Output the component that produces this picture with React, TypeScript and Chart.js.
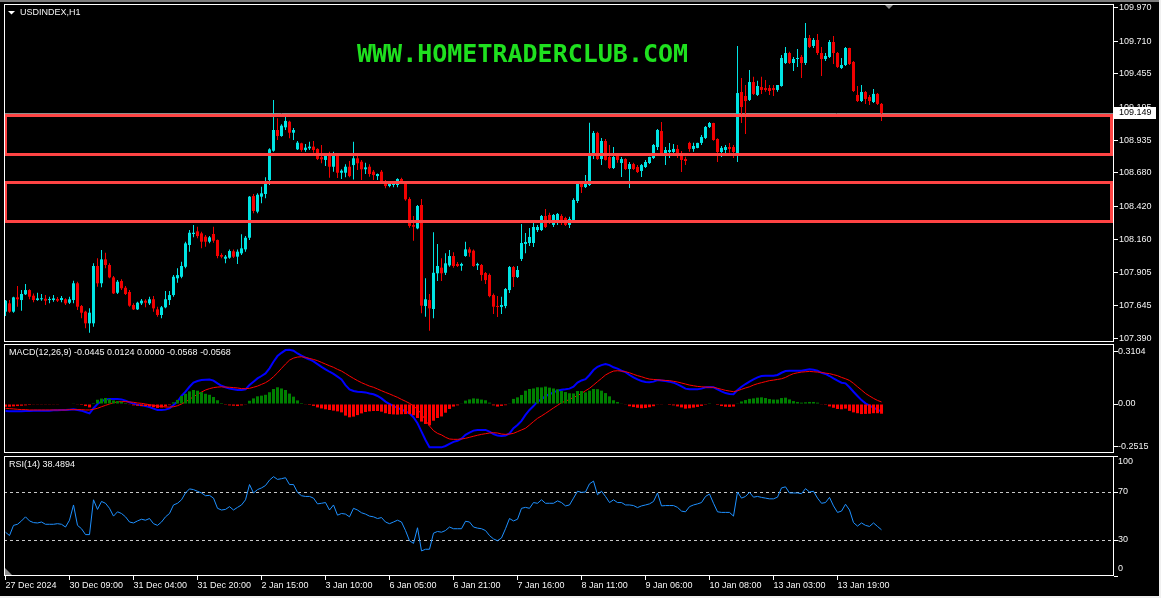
import React, { useEffect, useRef } from 'react';
import { Chart, registerables } from 'chart.js';

Chart.register(...registerables);

// ---------- DATA ----------
const opens = [
107.596,107.661,107.596,107.708,107.687,107.732,107.765,107.721,107.687,107.693,
107.697,107.687,107.687,107.695,107.687,107.693,107.666,107.687,107.818,107.640,
107.596,107.505,107.505,107.953,107.818,108.005,107.961,107.864,107.744,107.836,
107.783,107.750,107.648,107.614,107.661,107.682,107.661,107.693,107.614,107.570,
107.630,107.687,107.726,107.857,107.869,107.947,108.117,108.203,108.224,108.208,
108.182,108.143,108.203,108.156,108.039,108.010,108.018,108.068,108.026,108.052,
108.083,108.174,108.500,108.378,108.495,108.516,108.625,108.854,109.016,108.969,
109.037,109.081,108.995,108.865,108.912,108.860,108.873,108.886,108.868,108.803,
108.782,108.834,108.729,108.821,108.682,108.682,108.729,108.742,108.795,108.768,
108.709,108.729,108.690,108.656,108.690,108.612,108.578,108.586,108.586,108.633,
108.599,108.477,108.273,108.247,108.430,107.640,107.687,107.617,107.896,107.940,
107.900,107.958,108.031,107.969,107.955,108.031,108.083,108.073,107.958,107.961,
107.898,107.883,107.726,107.640,107.633,107.640,107.765,107.945,107.867,108.008,
108.125,108.133,108.133,108.234,108.234,108.344,108.352,108.274,108.289,108.344,
108.328,108.274,108.313,108.461,108.602,108.570,108.586,108.828,108.993,108.789,
108.930,108.805,108.719,108.813,108.758,108.789,108.711,108.750,108.727,108.696,
108.727,108.758,108.797,108.883,109.008,108.836,108.844,108.844,108.868,108.836,
108.789,108.915,108.868,108.876,108.915,108.954,109.040,109.071,108.946,108.844,
108.860,108.883,108.883,108.836,109.313,109.282,109.251,109.391,109.290,109.352,
109.344,109.344,109.344,109.329,109.360,109.540,109.618,109.540,109.571,109.587,
109.540,109.735,109.673,109.720,109.618,109.571,109.587,109.704,109.618,109.501,
109.524,109.657,109.548,109.290,109.243,109.313,109.274,109.235,109.298,109.220,
];

const highs = [
107.687,107.687,107.713,107.797,107.765,107.812,107.771,107.739,107.744,107.734,
107.726,107.713,107.726,107.710,107.718,107.700,107.713,107.838,107.830,107.648,
107.603,107.622,107.974,108.013,108.078,108.057,107.974,107.875,107.843,107.849,
107.797,107.765,107.661,107.674,107.695,107.693,107.713,107.718,107.635,107.640,
107.757,107.757,107.882,107.935,107.987,108.143,108.234,108.274,108.260,108.221,
108.195,108.187,108.260,108.161,108.052,108.039,108.083,108.083,108.083,108.201,
108.187,108.500,108.516,108.521,108.573,108.646,108.873,109.251,109.108,109.061,
109.120,109.089,109.032,108.930,108.917,108.907,108.925,108.930,108.873,108.899,
108.834,108.847,108.847,108.829,108.709,108.748,108.774,108.925,108.821,108.782,
108.760,108.748,108.703,108.677,108.703,108.625,108.612,108.612,108.638,108.643,
108.612,108.490,108.344,108.430,108.477,107.857,107.734,108.216,108.125,108.013,
108.052,108.078,108.060,107.984,107.979,108.143,108.099,108.083,107.979,107.969,
107.906,107.895,107.739,107.718,107.713,107.781,107.953,107.953,107.953,108.281,
108.211,108.250,108.289,108.274,108.352,108.399,108.370,108.360,108.367,108.357,
108.338,108.338,108.482,108.604,108.612,108.664,109.073,109.008,109.003,108.954,
108.946,108.899,108.883,108.821,108.805,108.795,108.766,108.760,108.742,108.750,
108.782,108.807,108.907,109.024,109.079,108.883,108.915,108.907,108.899,108.852,
108.807,108.925,108.917,108.917,108.977,109.048,109.079,109.073,108.951,108.891,
108.899,108.915,108.899,109.673,109.423,109.368,109.485,109.433,109.401,109.433,
109.407,109.368,109.368,109.368,109.603,109.665,109.628,109.587,109.650,109.603,
109.852,109.759,109.735,109.767,109.665,109.618,109.720,109.751,109.626,109.579,
109.665,109.660,109.556,109.360,109.368,109.321,109.290,109.337,109.305,109.228,
];

const lows = [
107.562,107.588,107.588,107.635,107.603,107.726,107.693,107.669,107.682,107.682,
107.648,107.661,107.674,107.671,107.669,107.648,107.656,107.661,107.609,107.544,
107.466,107.432,107.479,107.791,107.786,107.935,107.857,107.734,107.734,107.765,
107.726,107.635,107.609,107.609,107.648,107.630,107.648,107.596,107.557,107.544,
107.622,107.648,107.713,107.822,107.857,107.935,108.065,108.177,108.169,108.091,
108.104,108.130,108.135,108.013,108.013,107.974,108.010,108.015,107.969,108.039,
108.065,108.156,108.365,108.365,108.443,108.482,108.586,108.846,108.938,108.964,
109.016,108.951,108.938,108.860,108.846,108.846,108.860,108.839,108.782,108.756,
108.735,108.643,108.690,108.641,108.633,108.646,108.646,108.630,108.703,108.625,
108.672,108.651,108.625,108.625,108.599,108.560,108.568,108.568,108.568,108.594,
108.463,108.252,108.151,108.240,107.583,107.557,107.447,107.544,107.836,107.836,
107.883,107.947,107.940,107.945,107.916,108.026,108.026,107.947,107.922,107.838,
107.812,107.708,107.578,107.554,107.578,107.622,107.742,107.789,107.859,107.992,
108.052,108.109,108.101,108.219,108.226,108.250,108.281,108.258,108.274,108.274,
108.266,108.250,108.307,108.445,108.524,108.563,108.578,108.789,108.782,108.743,
108.777,108.711,108.711,108.760,108.649,108.703,108.563,108.703,108.680,108.649,
108.719,108.750,108.789,108.860,108.828,108.743,108.797,108.821,108.797,108.688,
108.743,108.846,108.846,108.873,108.899,108.946,109.032,108.933,108.766,108.805,
108.836,108.839,108.797,108.766,109.071,108.985,109.243,109.290,109.282,109.298,
109.316,109.290,109.282,109.316,109.355,109.532,109.532,109.477,109.509,109.423,
109.524,109.657,109.657,109.603,109.438,109.556,109.579,109.532,109.501,109.493,
109.516,109.524,109.313,109.235,109.235,109.220,109.212,109.228,109.212,109.087,
];

const closes = [
107.682,107.596,107.708,107.693,107.734,107.765,107.713,107.687,107.700,107.700,
107.682,107.693,107.700,107.682,107.703,107.661,107.693,107.818,107.635,107.588,
107.505,107.588,107.953,107.818,108.005,107.961,107.864,107.739,107.830,107.779,
107.734,107.643,107.614,107.666,107.682,107.666,107.693,107.622,107.570,107.630,
107.693,107.726,107.869,107.882,107.953,108.130,108.213,108.213,108.187,108.143,
108.143,108.177,108.151,108.031,108.026,108.026,108.070,108.026,108.065,108.091,
108.174,108.495,108.383,108.510,108.521,108.599,108.865,109.016,108.969,109.050,
109.087,108.995,109.016,108.917,108.860,108.878,108.886,108.860,108.790,108.787,
108.821,108.729,108.821,108.682,108.698,108.729,108.656,108.795,108.756,108.709,
108.724,108.672,108.664,108.672,108.612,108.578,108.594,108.599,108.633,108.599,
108.474,108.266,108.260,108.422,107.643,107.693,107.622,107.900,107.953,107.896,
107.974,108.031,107.953,107.953,107.969,108.083,108.057,107.953,107.969,107.883,
107.843,107.718,107.635,107.633,107.648,107.773,107.945,107.867,107.922,108.133,
108.141,108.180,108.258,108.258,108.344,108.258,108.289,108.352,108.360,108.289,
108.274,108.320,108.469,108.594,108.570,108.602,108.836,108.993,108.789,108.930,
108.782,108.719,108.805,108.782,108.789,108.711,108.750,108.711,108.688,108.742,
108.766,108.805,108.899,109.016,108.836,108.860,108.860,108.868,108.821,108.782,
108.774,108.868,108.891,108.915,108.961,109.040,109.071,108.938,108.844,108.876,
108.883,108.868,108.844,109.305,109.196,109.243,109.391,109.298,109.360,109.329,
109.329,109.321,109.329,109.368,109.579,109.618,109.540,109.571,109.579,109.540,
109.735,109.665,109.720,109.618,109.571,109.595,109.704,109.618,109.509,109.524,
109.657,109.532,109.321,109.243,109.313,109.259,109.243,109.298,109.220,109.149,
];

const macdLine = [
-0.041,-0.043,-0.043,-0.043,-0.043,-0.041,-0.041,-0.039,-0.039,-0.039,
-0.039,-0.039,-0.037,-0.037,-0.035,-0.035,-0.033,-0.031,-0.035,-0.039,
-0.047,-0.055,-0.025,0.000,0.016,0.027,0.029,0.029,0.029,0.027,
0.020,0.010,0.002,-0.004,-0.008,-0.012,-0.018,-0.027,-0.035,-0.035,
-0.033,-0.025,-0.006,0.014,0.047,0.072,0.101,0.125,0.135,0.140,
0.142,0.144,0.137,0.121,0.107,0.098,0.090,0.086,0.082,0.082,
0.086,0.111,0.131,0.150,0.164,0.179,0.209,0.248,0.281,0.300,
0.316,0.318,0.312,0.296,0.283,0.271,0.261,0.250,0.234,0.218,
0.203,0.189,0.176,0.160,0.144,0.111,0.086,0.076,0.072,0.070,
0.068,0.062,0.057,0.047,0.033,0.014,0.000,-0.012,-0.023,-0.033,
-0.043,-0.055,-0.078,-0.113,-0.162,-0.211,-0.254,-0.254,-0.254,-0.254,
-0.246,-0.234,-0.222,-0.215,-0.203,-0.181,-0.168,-0.156,-0.152,-0.152,
-0.152,-0.162,-0.176,-0.185,-0.187,-0.185,-0.172,-0.142,-0.123,-0.099,
-0.064,-0.035,-0.012,0.014,0.027,0.047,0.057,0.068,0.078,0.084,
0.086,0.090,0.101,0.125,0.138,0.146,0.170,0.199,0.218,0.228,
0.234,0.228,0.215,0.207,0.195,0.187,0.170,0.156,0.144,0.135,
0.129,0.127,0.131,0.140,0.138,0.135,0.131,0.125,0.115,0.103,
0.090,0.086,0.086,0.086,0.090,0.098,0.099,0.098,0.086,0.074,
0.064,0.059,0.057,0.082,0.101,0.117,0.131,0.144,0.156,0.164,
0.166,0.166,0.166,0.170,0.183,0.193,0.195,0.195,0.195,0.195,
0.199,0.203,0.201,0.195,0.183,0.176,0.164,0.150,0.137,0.125,
0.121,0.098,0.072,0.047,0.023,0.004,-0.010,-0.021,-0.033,-0.045,
];

const signalLine = [
-0.025,-0.027,-0.029,-0.031,-0.033,-0.033,-0.035,-0.035,-0.035,-0.035,
-0.035,-0.035,-0.035,-0.035,-0.035,-0.035,-0.033,-0.033,-0.033,-0.033,
-0.035,-0.035,-0.031,-0.025,-0.016,-0.008,0.000,0.008,0.012,0.014,
0.014,0.012,0.010,0.006,0.004,0.000,-0.004,-0.008,-0.012,-0.014,
-0.018,-0.018,-0.016,-0.010,0.000,0.012,0.027,0.043,0.057,0.070,
0.082,0.090,0.096,0.099,0.101,0.099,0.098,0.096,0.094,0.090,
0.090,0.092,0.098,0.105,0.115,0.125,0.140,0.160,0.183,0.209,
0.234,0.257,0.269,0.275,0.277,0.273,0.267,0.261,0.254,0.244,
0.234,0.224,0.215,0.203,0.193,0.179,0.164,0.150,0.137,0.125,
0.115,0.105,0.098,0.088,0.078,0.068,0.059,0.049,0.039,0.027,
0.016,0.004,-0.012,-0.031,-0.059,-0.094,-0.129,-0.156,-0.172,-0.181,
-0.195,-0.205,-0.207,-0.207,-0.205,-0.201,-0.195,-0.189,-0.183,-0.178,
-0.174,-0.170,-0.168,-0.170,-0.176,-0.178,-0.176,-0.172,-0.162,-0.152,
-0.142,-0.123,-0.103,-0.084,-0.070,-0.055,-0.039,-0.023,-0.008,0.008,
0.016,0.027,0.039,0.049,0.062,0.078,0.092,0.111,0.131,0.150,
0.170,0.183,0.193,0.195,0.193,0.189,0.183,0.174,0.166,0.160,
0.152,0.146,0.144,0.142,0.140,0.138,0.137,0.133,0.129,0.123,
0.117,0.111,0.107,0.103,0.101,0.099,0.098,0.098,0.092,0.086,
0.080,0.076,0.072,0.078,0.086,0.094,0.101,0.111,0.119,0.125,
0.131,0.137,0.140,0.144,0.148,0.156,0.168,0.178,0.183,0.187,
0.189,0.191,0.189,0.187,0.185,0.181,0.178,0.172,0.166,0.156,
0.148,0.138,0.121,0.101,0.082,0.062,0.047,0.033,0.021,0.012,
];

const macdHist = [
-0.016,-0.016,-0.014,-0.012,-0.010,-0.008,-0.006,-0.004,-0.004,-0.004,
-0.004,-0.004,-0.002,-0.002,0.000,0.000,0.000,0.002,-0.002,-0.006,
-0.012,-0.020,0.006,0.025,0.032,0.035,0.029,0.021,0.017,0.013,
0.006,-0.002,-0.008,-0.010,-0.012,-0.012,-0.014,-0.019,-0.023,-0.021,
-0.015,-0.007,0.010,0.024,0.047,0.060,0.074,0.082,0.078,0.070,
0.060,0.054,0.041,0.022,0.006,-0.001,-0.008,-0.010,-0.012,-0.008,
-0.004,0.019,0.033,0.045,0.049,0.054,0.069,0.088,0.098,0.091,
0.082,0.061,0.043,0.021,0.006,-0.002,-0.006,-0.011,-0.020,-0.026,
-0.031,-0.035,-0.039,-0.043,-0.049,-0.068,-0.078,-0.074,-0.065,-0.055,
-0.047,-0.043,-0.041,-0.041,-0.045,-0.054,-0.059,-0.061,-0.062,-0.060,
-0.059,-0.059,-0.066,-0.082,-0.103,-0.117,-0.125,-0.098,-0.082,-0.073,
-0.051,-0.029,-0.015,-0.008,0.002,0.020,0.027,0.033,0.031,0.026,
0.022,0.008,-0.008,-0.015,-0.011,-0.007,0.004,0.030,0.039,0.053,
0.078,0.088,0.091,0.098,0.097,0.102,0.096,0.091,0.086,0.076,
0.070,0.063,0.062,0.076,0.076,0.068,0.078,0.088,0.087,0.078,
0.064,0.045,0.022,0.012,0.002,-0.002,-0.013,-0.018,-0.022,-0.025,
-0.023,-0.019,-0.013,-0.002,-0.002,-0.003,-0.006,-0.008,-0.014,-0.020,
-0.027,-0.025,-0.021,-0.017,-0.011,-0.001,0.001,0.000,-0.006,-0.012,
-0.016,-0.017,-0.015,0.004,0.015,0.023,0.030,0.033,0.037,0.039,
0.035,0.029,0.026,0.026,0.035,0.037,0.027,0.017,0.012,0.008,
0.010,0.012,0.012,0.008,-0.002,-0.005,-0.014,-0.022,-0.029,-0.031,
-0.027,-0.040,-0.049,-0.054,-0.059,-0.058,-0.057,-0.054,-0.054,-0.057,
];

const rsiValues = [
36.5,33.7,42.2,43.1,45.9,49.3,45.9,44.5,44.2,45.0,
43.1,43.1,43.1,43.6,43.1,40.8,46.5,59.2,42.2,39.4,
34.5,34.5,63.5,55.5,62.1,60.6,56.4,49.9,53.5,52.1,
49.3,45.0,44.2,45.9,47.3,46.5,47.9,43.6,42.2,45.0,
49.3,52.1,59.2,60.6,63.5,69.2,72.6,72.0,70.6,69.2,
66.9,67.2,64.9,56.4,55.0,55.5,57.8,55.0,57.2,59.2,
63.5,76.2,69.2,72.0,73.4,75.4,79.9,82.8,80.5,81.1,
81.9,76.2,76.2,69.7,66.9,66.3,66.3,64.9,60.1,60.6,
61.2,55.0,59.2,50.7,52.1,51.6,49.3,56.4,55.0,52.7,
51.6,49.9,49.3,47.9,48.7,45.0,43.6,45.0,46.5,45.0,
37.9,29.4,27.2,40.2,20.9,22.3,22.3,35.7,37.1,36.5,
37.9,40.8,39.4,39.4,39.4,45.6,45.0,40.8,39.9,39.4,
37.9,33.7,30.9,29.4,31.7,39.4,47.9,45.9,47.3,56.4,
57.2,56.4,61.2,60.6,63.5,60.6,60.6,60.6,62.6,61.2,
58.4,59.2,64.9,70.6,69.7,70.0,76.8,79.1,67.7,70.6,
66.3,61.2,63.5,61.2,61.2,59.2,59.2,58.7,57.0,58.4,
59.2,60.1,62.1,69.2,58.4,58.7,58.7,58.7,57.2,54.1,
53.5,57.8,59.2,60.1,61.2,66.3,68.3,60.6,53.5,53.0,
53.0,53.0,49.9,70.0,64.9,66.3,69.7,65.7,66.3,65.5,
64.9,64.3,64.3,65.7,73.4,74.3,69.2,69.2,69.2,68.6,
72.8,70.0,70.6,64.9,60.6,61.2,65.5,58.4,53.0,54.1,
59.8,55.0,44.5,41.6,44.2,42.2,41.3,44.2,41.3,38.5,
];

const timeLabels = [
  '27 Dec 2024', '30 Dec 09:00', '31 Dec 04:00', '31 Dec 20:00', '2 Jan 15:00',
  '3 Jan 10:00', '6 Jan 05:00', '6 Jan 21:00', '7 Jan 16:00', '8 Jan 11:00',
  '9 Jan 06:00', '10 Jan 08:00', '13 Jan 03:00', '13 Jan 19:00',
];
const LABEL_STEP = 16;

const priceTicks = [109.97, 109.71, 109.455, 109.195, 108.935, 108.68, 108.42, 108.16, 107.905, 107.645, 107.39];
const priceTickLabels = ['109.970', '109.710', '109.455', '109.195', '108.935', '108.680', '108.420', '108.160', '107.905', '107.645', '107.390'];
const macdTicks = [0.3104, 0, -0.2515];
const macdTickLabels = ['0.3104', '0.00', '-0.2515'];
const rsiTicks = [100, 70, 30, 0];
const rsiTickLabels = ['100', '70', '30', '0'];
const rsiLevels = [70, 30];

const zones = [
  [109.133, 108.825],
  [108.606, 108.301],
];
const lastPrice = 109.149;
const lastPriceLabel = '109.149';

const symbolTitle = 'USDINDEX,H1';
const macdTitle = 'MACD(12,26,9) -0.0445 0.0124 0.0000 -0.0568 -0.0568';
const rsiTitle = 'RSI(14) 38.4894';
const watermark = 'WWW.HOMETRADERCLUB.COM';

// ---------- LAYOUT / STYLE ----------
const CANVAS_W = 1161;
const AXIS_W = 47;
const X_MIN = -0.375;
const X_MAX = 277.125;
const PRICE_MIN = 107.359;
const PRICE_MAX = 110.001;
const MACD_MIN = -0.2871;
const MACD_MAX = 0.3516;
const FONT = "'Liberation Sans', Arial, sans-serif";
const BULL = '#00e4e4';
const BEAR = '#f20000';
const TEXT = '#f4f4f4';

const pts = (arr: number[]) => arr.map((v, i) => ({ x: i, y: v }));
const candleColor = (c: any) => (closes[c.dataIndex] >= opens[c.dataIndex] ? BULL : BEAR);

function xAxis(show: boolean) {
  return {
    type: 'linear',
    min: X_MIN,
    max: X_MAX,
    offset: false,
    position: 'bottom',
    display: show,
    afterBuildTicks: (s: any) => {
      s.ticks = timeLabels.map((_, k) => ({ value: k * LABEL_STEP }));
    },
    afterFit: (s: any) => {
      if (show) s.height = 22;
      s.paddingLeft = 0;
      s.paddingRight = 0;
    },
    ticks: {
      autoSkip: false,
      maxRotation: 0,
      minRotation: 0,
      align: 'start',
      color: TEXT,
      padding: 0,
      font: { family: FONT, size: 9 },
      callback: (_v: any, i: number) => timeLabels[i],
    },
    grid: { display: true, drawOnChartArea: false, drawTicks: true, tickLength: 4, color: '#ffffff', offset: false },
    border: { display: false },
  };
}

function yAxis(min: number, max: number, values: number[], labels: string[], pad: number, showLabels: boolean) {
  return {
    type: 'linear',
    position: 'right',
    min,
    max,
    afterBuildTicks: (s: any) => {
      s.ticks = values.map((v) => ({ value: v }));
    },
    afterFit: (s: any) => {
      s.width = AXIS_W;
      s.paddingTop = 0;
      s.paddingBottom = 0;
    },
    ticks: {
      display: showLabels,
      autoSkip: false,
      color: TEXT,
      padding: pad,
      font: { family: FONT, size: 9 },
      callback: (_v: any, i: number) => labels[i],
    },
    grid: { display: true, drawOnChartArea: false, drawTicks: true, tickLength: 4, color: '#ffffff', lineWidth: 1 },
    border: { display: false },
  };
}

const common = {
  responsive: false,
  animation: false,
  devicePixelRatio: 1,
  events: [],
  plugins: { legend: { display: false }, tooltip: { enabled: false }, title: { display: false } },
};

const borderPlugin = {
  id: 'panelBorder',
  afterDraw(chart: any) {
    const { ctx, chartArea: a } = chart;
    ctx.save();
    ctx.strokeStyle = '#ffffff';
    ctx.lineWidth = 1;
    ctx.strokeRect(a.left + 0.5, a.top + 0.5, a.right - a.left - 1, a.bottom - a.top - 1);
    ctx.restore();
  },
};

function drawTitle(ctx: any, text: string, x: number, y: number) {
  ctx.save();
  ctx.font = `9px ${FONT}`;
  ctx.fillStyle = TEXT;
  ctx.textBaseline = 'middle';
  ctx.textAlign = 'left';
  ctx.fillText(text, x, y);
  ctx.restore();
}

const mainDecor = {
  id: 'mainDecor',
  beforeDatasetsDraw(chart: any) {
    const { ctx, chartArea: a, scales } = chart;
    ctx.save();
    ctx.font = `bold 25px 'DejaVu Sans Mono', monospace`;
    ctx.fillStyle = '#1fe01f';
    ctx.textBaseline = 'alphabetic';
    ctx.textAlign = 'left';
    ctx.fillText(watermark, 357, 62);
    // bid line
    const by = Math.round(scales.y.getPixelForValue(lastPrice)) + 0.5;
    ctx.strokeStyle = '#8c8c8c';
    ctx.lineWidth = 1;
    ctx.beginPath();
    ctx.moveTo(a.left, by);
    ctx.lineTo(a.right, by);
    ctx.stroke();
    ctx.restore();
  },
  afterDatasetsDraw(chart: any) {
    const { ctx, chartArea: a, scales } = chart;
    ctx.save();
    ctx.strokeStyle = '#ff4444';
    ctx.lineWidth = 3;
    zones.forEach(([hi, lo]) => {
      const y1 = Math.round(scales.y.getPixelForValue(hi)) + 0.5;
      const y2 = Math.round(scales.y.getPixelForValue(lo)) + 0.5;
      ctx.strokeRect(a.left + 1.5, y1, a.right - a.left - 4, y2 - y1);
    });
    ctx.restore();
  },
  afterDraw(chart: any) {
    const { ctx, chartArea: a, scales } = chart;
    ctx.save();
    // symbol title + triangle
    ctx.fillStyle = '#ffffff';
    ctx.beginPath();
    ctx.moveTo(8, 11);
    ctx.lineTo(15, 11);
    ctx.lineTo(11.5, 14.5);
    ctx.closePath();
    ctx.fill();
    drawTitle(ctx, symbolTitle, 20, 13);
    // chart shift marker
    ctx.fillStyle = '#8a8a8a';
    ctx.beginPath();
    ctx.moveTo(885, a.top + 1);
    ctx.lineTo(893, a.top + 1);
    ctx.lineTo(889, a.top + 5);
    ctx.closePath();
    ctx.fill();
    // last price tag
    const py = Math.round(scales.y.getPixelForValue(lastPrice));
    ctx.fillStyle = '#ffffff';
    ctx.fillRect(a.right, py - 6, 42, 12);
    ctx.fillStyle = '#000000';
    ctx.font = `9px ${FONT}`;
    ctx.textBaseline = 'middle';
    ctx.fillText(lastPriceLabel, a.right + 5, py);
    ctx.restore();
  },
};

const macdDecor = {
  id: 'macdDecor',
  afterDraw(chart: any) {
    drawTitle(chart.ctx, macdTitle, 9, 11);
  },
};

const rsiDecor = {
  id: 'rsiDecor',
  beforeDatasetsDraw(chart: any) {
    const { ctx, chartArea: a, scales } = chart;
    ctx.save();
    ctx.strokeStyle = '#c8c8c8';
    ctx.lineWidth = 1;
    ctx.setLineDash([3, 3]);
    rsiLevels.forEach((lv) => {
      const y = Math.round(scales.y.getPixelForValue(lv)) + 0.5;
      ctx.beginPath();
      ctx.moveTo(a.left, y);
      ctx.lineTo(a.right, y);
      ctx.stroke();
    });
    ctx.restore();
  },
  afterDraw(chart: any) {
    const { ctx, chartArea: a, scales } = chart;
    drawTitle(ctx, rsiTitle, 9, 11);
    ctx.save();
    ctx.font = `9px ${FONT}`;
    ctx.fillStyle = TEXT;
    ctx.textBaseline = 'middle';
    ctx.textAlign = 'left';
    rsiTicks.forEach((v, i) => {
      const y = Math.min(Math.max(scales.y.getPixelForValue(v), a.top + 6), a.bottom - 7);
      ctx.fillText(rsiTickLabels[i], a.right + 4, y);
    });
    ctx.fillStyle = '#8a8a8a';
    ctx.beginPath();
    ctx.moveTo(a.left + 1, a.bottom - 8);
    ctx.lineTo(a.left + 1, a.bottom - 1);
    ctx.lineTo(a.left + 8, a.bottom - 1);
    ctx.closePath();
    ctx.fill();
    ctx.restore();
  },
};

export default function App() {
  const mainRef = useRef<HTMLCanvasElement>(null);
  const macdRef = useRef<HTMLCanvasElement>(null);
  const rsiRef = useRef<HTMLCanvasElement>(null);

  useEffect(() => {
    Chart.defaults.font.family = FONT;
    Chart.defaults.color = TEXT;
    const charts: any[] = [];

    const bodies = opens.map((o, i) => ({ x: i, y: [o, closes[i]] }));
    const wicks = lows.map((l, i) => ({ x: i, y: [l, highs[i]] }));

    charts.push(
      new Chart(mainRef.current as any, {
        type: 'bar',
        data: {
          datasets: [
            { type: 'bar', data: wicks, backgroundColor: candleColor, barThickness: 1, grouped: false, order: 2, borderWidth: 0, inflateAmount: 0 },
            { type: 'bar', data: bodies, backgroundColor: candleColor, barThickness: 3, grouped: false, order: 1, borderWidth: 0, inflateAmount: 0, minBarLength: 1 },
          ],
        } as any,
        options: {
          ...common,
          layout: { padding: { left: 4, top: 4, right: 0, bottom: 0 } },
          scales: { x: xAxis(false), y: yAxis(PRICE_MIN, PRICE_MAX, priceTicks, priceTickLabels, 1, true) },
        } as any,
        plugins: [mainDecor, borderPlugin],
      })
    );

    charts.push(
      new Chart(macdRef.current as any, {
        type: 'bar',
        data: {
          datasets: [
            {
              type: 'bar',
              data: pts(macdHist),
              backgroundColor: (c: any) => (macdHist[c.dataIndex] >= 0 ? '#008000' : '#ff0000'),
              barThickness: 3,
              grouped: false,
              order: 1,
              borderWidth: 0,
              inflateAmount: 0,
            },
            { type: 'line', data: pts(macdLine), borderColor: '#0000ff', borderWidth: 2, pointRadius: 0, tension: 0, order: 3 },
            { type: 'line', data: pts(signalLine), borderColor: '#ff0000', borderWidth: 1, pointRadius: 0, tension: 0, order: 2 },
          ],
        } as any,
        options: {
          ...common,
          layout: { padding: { left: 4, top: 2, right: 0, bottom: 1 } },
          scales: { x: xAxis(false), y: yAxis(MACD_MIN, MACD_MAX, macdTicks, macdTickLabels, 0, true) },
        } as any,
        plugins: [macdDecor, borderPlugin],
      })
    );

    charts.push(
      new Chart(rsiRef.current as any, {
        type: 'line',
        data: {
          datasets: [
            { type: 'line', data: pts(rsiValues), borderColor: '#1e90ff', borderWidth: 1, pointRadius: 0, tension: 0 },
          ],
        } as any,
        options: {
          ...common,
          layout: { padding: { left: 4, top: 2, right: 0, bottom: 0 } },
          scales: { x: xAxis(true), y: yAxis(0, 100, rsiTicks, rsiTickLabels, 0, false) },
        } as any,
        plugins: [rsiDecor, borderPlugin],
      })
    );

    return () => charts.forEach((c) => c.destroy());
  }, []);

  return (
    <div style={{ position: 'fixed', left: 0, top: 0, width: 1161, height: 598, background: '#f0f0f0', overflow: 'hidden' }}>
      <div style={{ position: 'absolute', left: 0, top: 0, width: 1159, height: 596, background: '#000000' }} />
      <div style={{ position: 'absolute', left: 0, top: 0, width: 1159, height: 2, background: '#7c7c7c' }} />
      <canvas ref={mainRef} width={CANVAS_W} height={342} style={{ position: 'absolute', left: 0, top: 0, display: 'block' }} />
      <canvas ref={macdRef} width={CANVAS_W} height={112} style={{ position: 'absolute', left: 0, top: 342, display: 'block' }} />
      <canvas ref={rsiRef} width={CANVAS_W} height={144} style={{ position: 'absolute', left: 0, top: 454, display: 'block' }} />
    </div>
  );
}
